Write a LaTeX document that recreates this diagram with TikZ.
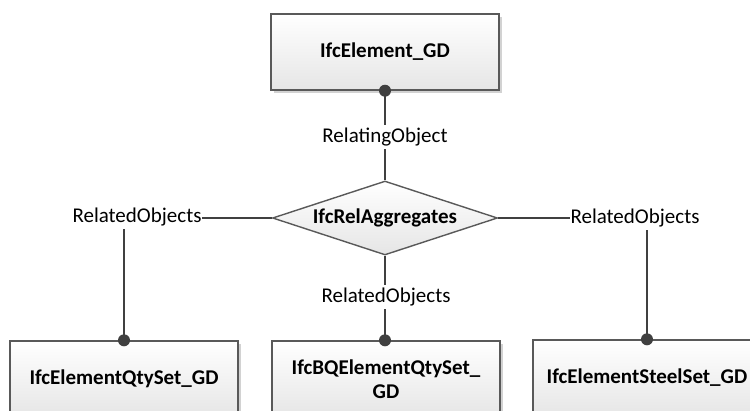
\documentclass[tikz,border=0pt]{standalone}
\usepackage{fontspec}
\setmainfont{Carlito}
\usetikzlibrary{shapes.geometric,shadows}
\begin{document}
\begin{tikzpicture}[x=1pt,y=-1pt,
  entity/.style={draw=black!65, line width=1.4pt, top color=white, bottom color=black!10,
    minimum width=228pt, minimum height=76pt, inner sep=2pt, align=center,
    font=\fontsize{21}{23.5}\selectfont\bfseries,
    drop shadow={shadow xshift=2.5pt, shadow yshift=-2.5pt, fill=black!35, opacity=0.5}},
  relation/.style={diamond, draw=black!65, line width=1.4pt, top color=white, bottom color=black!10,
    minimum width=225pt, minimum height=74pt, inner sep=0pt, aspect=3,
    font=\fontsize{21}{23.5}\selectfont\bfseries},
  link/.style={draw=black!75, line width=2.3pt},
  role/.style={fill=white, inner xsep=1pt, inner ysep=3pt, font=\fontsize{21}{23.5}\selectfont},
  dot/.style={circle, fill=black!75, inner sep=0pt, minimum size=12pt}
]
\useasboundingbox (0,0) rectangle (750,410);
\clip (0,0) rectangle (750,410);

% entities and the aggregation relationship
\node[entity] (top) at (385,52) {IfcElement\_GD};
\node[relation] (rel) at (385,218) {IfcRelAggregates};
\node[entity] (qty) at (124,379) {IfcElementQtySet\_GD};
\node[entity] (bq) at (386,379) {IfcBQElementQtySet\_\\GD};
\node[entity] (steel) at (647,378) {IfcElementSteelSet\_GD};

% connectors
\draw[link] (rel.north) -- (top.south);
\draw[link] (rel.west) -| (qty.north);
\draw[link] (rel.south) -- (rel.south |- bq.north);
\draw[link] (rel.east) -| (steel.north);

% role names sitting on the connectors
\node[role] (r0) at (385,137) {RelatingObject};
\node[role] (r1) at (137,217) {RelatedObjects};
\node[role] (r2) at (386,297) {RelatedObjects};
\node[role] (r3) at (635,218) {RelatedObjects};

% attachment dots
\node[dot] (d0) at (top.south) {};
\node[dot] (d1) at (qty.north) {};
\node[dot] (d2) at (rel.south |- bq.north) {};
\node[dot] (d3) at (steel.north) {};
\end{tikzpicture}
\end{document}
